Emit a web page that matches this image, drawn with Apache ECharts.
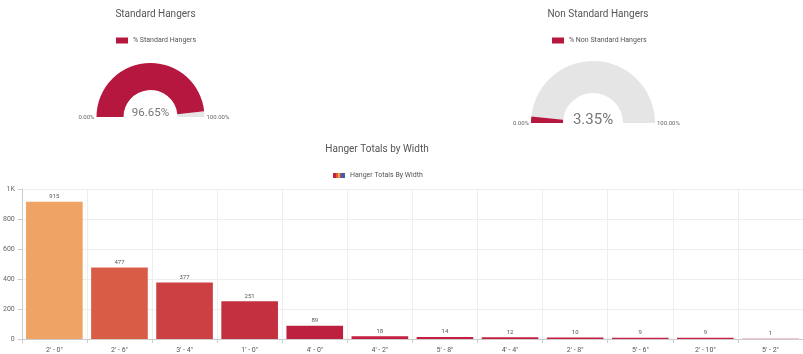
<!DOCTYPE html>
<html>
<head>
<meta charset="utf-8">
<script src="https://cdn.jsdelivr.net/npm/echarts@6/dist/echarts.min.js"></script>
<style>
  html, body { margin: 0; padding: 0; background: #fff; }
  #chart { width: 803px; height: 354px; }
</style>
</head>
<body>
<div id="chart"></div>
<script>
// Share of standard vs non-standard hangers (percent)
const standardPct = 96.65;
const nonStandardPct = 3.35;

// Hanger counts per width
const widthCategories = ["2' - 0\"", "2' - 6\"", "3' - 4\"", "1' - 0\"", "4' - 0\"", "4' - 2\"",
                         "5' - 8\"", "4' - 4\"", "2' - 8\"", "5' - 6\"", "2' - 10\"", "5' - 2\""];
const widthTotals = [915, 477, 377, 251, 89, 18, 14, 12, 10, 9, 9, 1];

// Bar fill, from the largest count down
const barPalette = ['#efa465', '#d95c47', '#cc4044', '#c3303f', '#bd1f3f', '#c41f40',
                    '#c61f41', '#c61f41', '#c61f41', '#c61f41', '#c61f41', '#c61f41'];

const RED = '#b5173e';
const TRACK = '#e5e5e5';
const FONT = 'Roboto';
const END_LABEL_BOX = 30;   // width of the box holding each end label
const END_LABEL_GAP = 2;    // space between arc end and its label

const stripeIcon = 'image://data:image/svg+xml;utf8,' + encodeURIComponent(
  '<svg xmlns="http://www.w3.org/2000/svg" width="12" height="5">' +
  '<rect x="0" y="0" width="3" height="5" fill="#c3203f"/>' +
  '<rect x="3" y="0" width="2" height="5" fill="#e2593c"/>' +
  '<rect x="5" y="0" width="2" height="5" fill="#f2a23e"/>' +
  '<rect x="7" y="0" width="2" height="5" fill="#8a4d8e"/>' +
  '<rect x="9" y="0" width="3" height="5" fill="#3c5ea8"/>' +
  '</svg>');

function gauge(name, value, cx, cy, r, width, detailSize, detailLift) {
  return {
    type: 'gauge',
    name: name,
    center: [cx, cy],
    radius: r,
    startAngle: 180,
    endAngle: 0,
    min: 0,
    max: 100,
    splitNumber: 1,
    pointer: { show: false },
    anchor: { show: false },
    progress: { show: false },
    axisLine: {
      roundCap: false,
      lineStyle: { width: width, color: [[value / 100, RED], [1, TRACK]] }
    },
    axisTick: { show: false },
    splitLine: { show: false, length: 0, distance: 0 },
    axisLabel: {
      show: true,
      // push the end labels outside the arc, hugging its two ends
      distance: -(END_LABEL_BOX + END_LABEL_GAP),
      color: '#666',
      fontSize: 6,
      fontFamily: FONT,
      formatter: function (v) {
        const t = v.toFixed(2) + '%';
        return v === 0 ? '{a|' + t + '}' : '{b|' + t + '}';
      },
      rich: {
        a: { width: END_LABEL_BOX, align: 'right', fontSize: 6, color: '#666', fontFamily: FONT },
        b: { width: END_LABEL_BOX, align: 'left', fontSize: 6, color: '#666', fontFamily: FONT }
      }
    },
    title: { show: false },
    detail: {
      show: true,
      offsetCenter: [0, -detailLift],
      valueAnimation: false,
      fontSize: detailSize,
      fontWeight: 'normal',
      fontFamily: FONT,
      color: '#777',
      formatter: function (v) { return v.toFixed(2) + '%'; }
    },
    data: [{ name: name, value: value, itemStyle: { color: RED } }]
  };
}

const chart = echarts.init(document.getElementById('chart'), null, { renderer: 'canvas' });

chart.setOption({
  animation: false,
  textStyle: { fontFamily: FONT },
  title: [
    { text: 'Standard Hangers', left: 150.5, top: 4, textAlign: 'center',
      textStyle: { fontSize: 10, fontWeight: 'normal', color: '#555', fontFamily: FONT } },
    { text: 'Non Standard Hangers', left: 593, top: 4, textAlign: 'center',
      textStyle: { fontSize: 10, fontWeight: 'normal', color: '#555', fontFamily: FONT } },
    { text: 'Hanger Totals by Width', left: 372, top: 139, textAlign: 'center',
      textStyle: { fontSize: 10, fontWeight: 'normal', color: '#555', fontFamily: FONT } }
  ],
  legend: [
    { left: 116, top: 37, padding: 0, icon: 'rect', itemWidth: 12, itemHeight: 6, itemGap: 4,
      textStyle: { fontSize: 7, color: '#555', fontFamily: FONT },
      data: [{ name: '% Standard Hangers', itemStyle: { color: RED } }] },
    { left: 552, top: 37, padding: 0, icon: 'rect', itemWidth: 12, itemHeight: 6, itemGap: 4,
      textStyle: { fontSize: 7, color: '#555', fontFamily: FONT },
      data: [{ name: '% Non Standard Hangers', itemStyle: { color: RED } }] },
    { left: 333, top: 172, padding: 0, itemWidth: 12, itemHeight: 5, itemGap: 4,
      textStyle: { fontSize: 7, color: '#555', fontFamily: FONT },
      data: [{ name: 'Hanger Totals By Width', icon: stripeIcon }] }
  ],
  grid: { left: 21, right: -8, top: 189, bottom: 15, containLabel: false },
  xAxis: {
    type: 'category',
    data: widthCategories,
    axisLine: { lineStyle: { color: '#ccc' } },
    axisTick: { show: true, length: 4, lineStyle: { color: '#ccc' } },
    splitLine: { show: true, lineStyle: { color: '#eee' } },
    axisLabel: { fontSize: 7, color: '#555', margin: 8, interval: 0, fontFamily: FONT }
  },
  yAxis: {
    type: 'value',
    min: 0,
    max: 1000,
    interval: 200,
    axisLine: { show: true, lineStyle: { color: '#ccc' } },
    axisTick: { show: true, length: 4, lineStyle: { color: '#ccc' } },
    splitLine: { show: true, lineStyle: { color: '#eee' } },
    axisLabel: {
      fontSize: 7, color: '#666', margin: 7, fontFamily: FONT,
      formatter: function (v) { return v >= 1000 ? (v / 1000) + 'K' : v; }
    }
  },
  series: [
    gauge('% Standard Hangers', standardPct, 150.5, 117, 54, 27, 11.5, 4),
    gauge('% Non Standard Hangers', nonStandardPct, 593, 123, 62, 32, 15, 2.5),
    {
      type: 'bar',
      name: 'Hanger Totals By Width',
      data: widthTotals,
      barCategoryGap: '13%',
      itemStyle: {
        color: function (p) { return barPalette[p.dataIndex]; }
      },
      label: {
        show: true, position: 'top', distance: 2,
        fontSize: 6, color: '#555', fontFamily: FONT
      }
    }
  ]
});
</script>
</body>
</html>
